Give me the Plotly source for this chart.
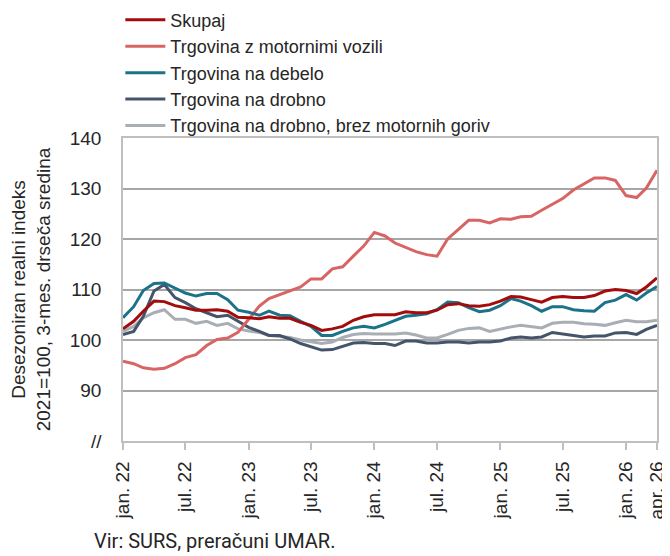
import plotly.graph_objects as go
import pandas as pd

months = pd.date_range("2022-01-01", "2026-04-01", freq="MS")

skupaj = [102.2, 103.7, 105.7, 107.7, 107.6, 106.8, 106.4, 105.9, 105.9, 106.0, 105.7, 104.5,
          104.4, 104.2, 104.6, 104.3, 104.3, 103.5, 102.9, 101.9, 102.2, 102.7, 103.9, 104.6,
          105.0, 105.0, 105.0, 105.6, 105.4, 105.4, 105.9, 107.0, 107.2, 106.8, 106.7, 107.0,
          107.7, 108.6, 108.5, 108.0, 107.5, 108.4, 108.6, 108.4, 108.4, 108.8, 109.7, 110.0,
          109.8, 109.2, 110.5, 112.3]
motorna = [95.8, 95.3, 94.5, 94.2, 94.4, 95.3, 96.5, 97.1, 98.9, 100.1, 100.4, 101.5,
           104.1, 106.7, 108.2, 109.0, 109.7, 110.5, 112.1, 112.1, 114.1, 114.5, 116.6, 118.6,
           121.3, 120.6, 119.2, 118.3, 117.5, 116.9, 116.6, 120.0, 121.9, 123.7, 123.7, 123.2,
           124.0, 123.9, 124.4, 124.5, 125.7, 126.8, 128.0, 129.7, 131.0, 132.1, 132.1, 131.6,
           128.6, 128.2, 130.1, 133.6]
debelo = [104.4, 106.6, 109.8, 111.2, 111.3, 110.3, 109.3, 108.7, 109.2, 109.2, 108.0, 105.9,
          105.5, 104.9, 105.7, 104.9, 104.8, 103.7, 102.7, 100.9, 100.9, 101.7, 102.4, 102.7,
          102.4, 103.1, 103.9, 104.7, 104.9, 105.2, 106.0, 107.5, 107.4, 106.4, 105.6, 105.9,
          106.8, 108.2, 107.7, 106.8, 105.7, 106.6, 106.6, 106.0, 105.8, 105.7, 107.4, 107.9,
          109.0, 107.9, 109.3, 110.6]
drobno = [101.1, 101.7, 104.7, 109.7, 111.0, 108.4, 107.4, 106.2, 105.4, 104.6, 104.9, 103.7,
          102.5, 101.7, 100.9, 100.9, 100.2, 99.3, 98.7, 98.0, 98.1, 98.8, 99.4, 99.5,
          99.3, 99.3, 98.9, 99.8, 99.8, 99.4, 99.4, 99.6, 99.6, 99.4, 99.6, 99.6,
          99.8, 100.4, 100.6, 100.4, 100.6, 101.5, 101.2, 101.0, 100.6, 100.8, 100.8, 101.4,
          101.5, 101.1, 102.1, 102.9]
brez_goriv = [101.7, 102.7, 104.4, 105.4, 106.0, 104.1, 104.1, 103.3, 103.7, 102.9, 103.3, 102.2,
              101.8, 101.5, 100.9, 100.7, 100.5, 100.0, 99.6, 99.3, 99.6, 100.5, 101.1, 101.3,
              101.2, 101.2, 101.2, 101.4, 101.0, 100.4, 100.4, 101.1, 101.9, 102.3, 102.4, 101.7,
              102.2, 102.6, 102.9, 102.6, 102.4, 103.3, 103.5, 103.5, 103.2, 103.1, 102.9, 103.4,
              103.9, 103.6, 103.6, 103.9]

series_names = ["Skupaj", "Trgovina z motornimi vozili", "Trgovina na debelo",
                "Trgovina na drobno", "Trgovina na drobno, brez motornih goriv"]
series_values = [skupaj, motorna, debelo, drobno, brez_goriv]
series_colors = ["#A20C0C", "#D96464", "#1B7289", "#44546A", "#A9AEB5"]

x_tick_dates = ["2022-01-01", "2022-07-01", "2023-01-01", "2023-07-01", "2024-01-01",
                "2024-07-01", "2025-01-01", "2025-07-01", "2026-01-01", "2026-04-01"]
x_tick_labels = ["jan. 22", "jul. 22", "jan. 23", "jul. 23", "jan. 24",
                 "jul. 24", "jan. 25", "jul. 25", "jan. 26", "apr. 26"]
y_tick_vals = [80, 90, 100, 110, 120, 130, 140]
y_tick_labels = ["//", "90", "100", "110", "120", "130", "140"]

TXT = "#262626"
fig = go.Figure()
order = [4, 3, 1, 2, 0]
for i in order:
    fig.add_trace(go.Scatter(x=months, y=series_values[i], name=series_names[i], mode="lines",
                             line=dict(color=series_colors[i], width=3),
                             legendrank=i + 1))

fig.add_hline(y=100, line=dict(color="#595959", width=1.8), layer="below")

fig.update_layout(
    width=662, height=548,
    margin=dict(l=115, r=13, t=130, b=115, autoexpand=False),
    paper_bgcolor="white", plot_bgcolor="white",
    font=dict(family="Liberation Sans, Arial, sans-serif", size=19, color=TXT),
    showlegend=True,
    legend=dict(x=-0.005, y=1.45, xanchor="left", yanchor="top", yref="paper",
                bgcolor="rgba(0,0,0,0)",
                font=dict(size=18, color=TXT), itemwidth=40, tracegroupgap=0,
                traceorder="normal"),
    xaxis=dict(
        range=["2022-01-01", "2026-04-01"], automargin=False,
        tickvals=x_tick_dates, ticktext=x_tick_labels, tickangle=-90,
        showgrid=False, showline=True, linecolor="#BFBFBF", linewidth=1.5,
        ticks="outside", ticklen=7, tickcolor="#BFBFBF", tickwidth=1.5,
        mirror=True, zeroline=False, tickfont=dict(size=19, color=TXT),
        ticklabelstandoff=4,
    ),
    yaxis=dict(
        range=[80, 140], tickvals=y_tick_vals, ticktext=y_tick_labels, automargin=False,
        showgrid=True, gridcolor="#A6A6A6", gridwidth=1.5,
        showline=True, linecolor="#BFBFBF", linewidth=1.5, mirror=True,
        ticks="", zeroline=False, tickfont=dict(size=19, color=TXT),
        ticklabelstandoff=16,
        title=dict(text="Desezoniran realni indeks<br>2021=100, 3-mes. drseča sredina",
                   font=dict(size=19, color=TXT), standoff=20),
    ),
)

fig.add_annotation(text="Vir: SURS, preračuni UMAR.", xref="paper", yref="paper",
                   x=-0.058, y=-0.33, xanchor="left", yanchor="middle", showarrow=False,
                   font=dict(size=20, color=TXT, family="Roboto, Liberation Sans, sans-serif"))

fig.write_html("out.html")
